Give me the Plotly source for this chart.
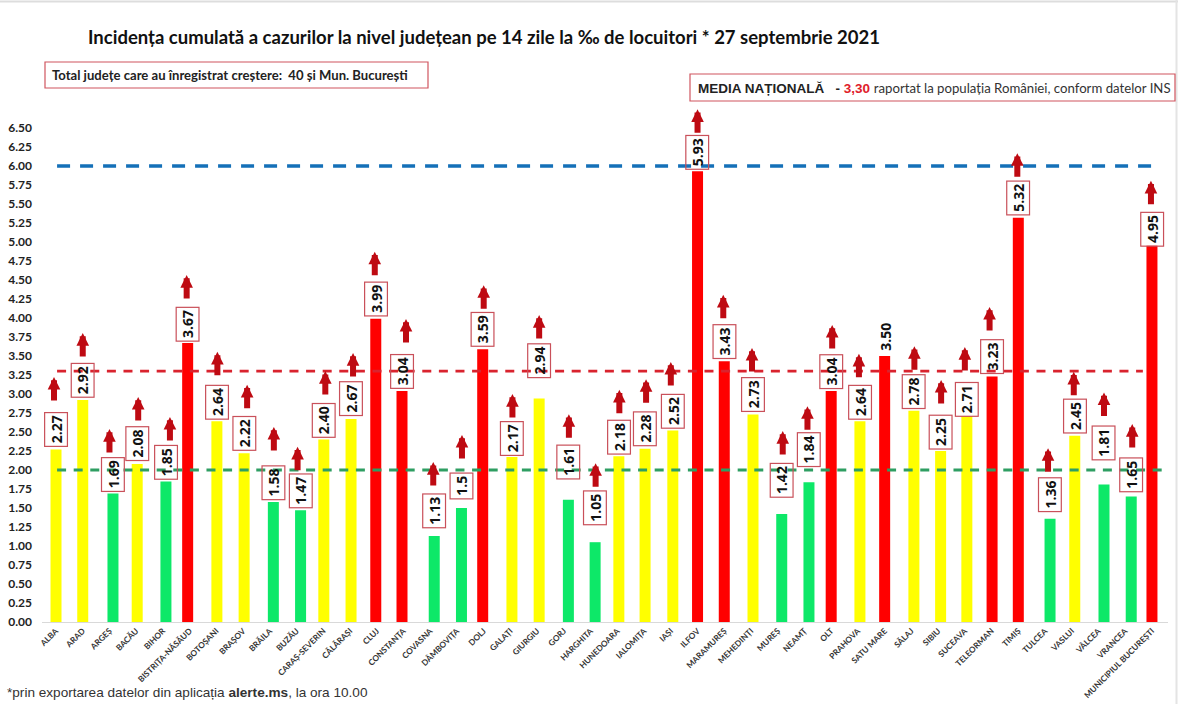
import plotly.graph_objects as go

# ---------- data ----------
COUNTIES = ["ALBA","ARAD","ARGEȘ","BACĂU","BIHOR","BISTRIȚA-NĂSĂUD","BOTOȘANI","BRAȘOV","BRĂILA","BUZĂU",
            "CARAȘ-SEVERIN","CĂLĂRAȘI","CLUJ","CONSTANȚA","COVASNA","DÂMBOVIȚA","DOLJ","GALAȚI","GIURGIU","GORJ",
            "HARGHITA","HUNEDOARA","IALOMIȚA","IAȘI","ILFOV","MARAMUREȘ","MEHEDINȚI","MUREȘ","NEAMȚ","OLT",
            "PRAHOVA","SATU MARE","SĂLAJ","SIBIU","SUCEAVA","TELEORMAN","TIMIȘ","TULCEA","VASLUI","VÂLCEA",
            "VRANCEA","MUNICIPIUL BUCUREȘTI"]
INCIDENCE = [2.27,2.92,1.69,2.08,1.85,3.67,2.64,2.22,1.58,1.47,
             2.40,2.67,3.99,3.04,1.13,1.5,3.59,2.17,2.94,1.61,
             1.05,2.18,2.28,2.52,5.93,3.43,2.73,1.42,1.84,3.04,
             2.64,3.50,2.78,2.25,2.71,3.23,5.32,1.36,2.45,1.81,
             1.65,4.95]
VALUE_LABELS = ["2.27","2.92","1.69","2.08","1.85","3.67","2.64","2.22","1.58","1.47",
                "2.40","2.67","3.99","3.04","1.13","1.5","3.59","2.17","2.94","1.61",
                "1.05","2.18","2.28","2.52","5.93","3.43","2.73","1.42","1.84","3.04",
                "2.64","3.50","2.78","2.25","2.71","3.23","5.32","1.36","2.45","1.81",
                "1.65","4.95"]
RISING = [c != "SATU MARE" for c in COUNTIES]
THRESHOLD_LOW = 2.0
THRESHOLD_NATIONAL = 3.3
THRESHOLD_HIGH = 6.0
Y_TICKS = [i * 0.25 for i in range(27)]

# ---------- layout tuning (pixels) ----------
W, H = 1178, 704
LEFT, RIGHT, TOP, BOTTOM = 42, 10, 128, 82
PX_PER_CAT = 26.73
BAR_W_PX = 11
BAR_NUDGE = [0,0,3.5,1,3,-2,.5,1,3.5,4,.5,1,-1,-1.5,4,4.5,-1,1.5,2,4.5,4.5,1.5,1,2,0,0,2,4,4.5,0,2,0,2.5,2.5,2,.5,0,5,3,5.5,6,0]
ARROW_NUDGE = [-2,0,0,2,7,-3,1,4,4,1,2,3,-2,2.5,3,5,0,2,2,5,5,2,2,0,0,-1,1,5,3,1,1,0,3,3,0,-2,-1,3,2,5.5,7,-1]
LABEL_LIFT = [19.5,20,19.5,20,19.5,19,19.5,19.5,19,19.5,19.5,20,20,19,25,22,20,19,37.5,37.5,34,19.5,19.5,19.5,19,19.5,19.5,34,33,19,19.5,19,19.5,19,17,19.5,19.5,23.5,20,41,21.5,17]
ARROW_LIFT = [72.5,67,64.5,67,64.5,68,69.5,68.5,75,63.5,68.5,66,67,72,74,73,64,63,83.5,85.5,79,66.5,69.5,68.5,62,66.5,66.5,83,76,66,67.5,0,64.5,71,69,69.5,64.5,70.5,64,92,72.5,65]

def bar_colour(v):
    if v < THRESHOLD_LOW:
        return "#0DE868"
    return "#FFFF00" if v <= 3.0 else "#FF0000"

fig = go.Figure(go.Bar(
    x=COUNTIES, y=INCIDENCE,
    width=BAR_W_PX / PX_PER_CAT,
    offset=[(n - BAR_W_PX / 2) / PX_PER_CAT for n in BAR_NUDGE],
    marker=dict(color=[bar_colour(v) for v in INCIDENCE], line=dict(width=0)),
    hoverinfo="x+y",
))

# threshold dashes
for val, col, x0, x1, w, dash in [
    (THRESHOLD_HIGH, "#1470B8", 0.04, 41.2, 3.4, "13px,10px"),
    (THRESHOLD_NATIONAL, "#D9232E", 0.04, 40.66, 2.8, "9px,7.6px"),
    (THRESHOLD_LOW, "#2E9E62", 0.04, 41.55, 2.8, "9px,7.6px"),
]:
    fig.add_shape(type="line", xref="x", yref="y", x0=x0, x1=x1, y0=val, y1=val,
                  line=dict(color=col, width=w, dash=dash), layer="above")

BORDER = "#C9505A"
for i, (c, v, t) in enumerate(zip(COUNTIES, INCIDENCE, VALUE_LABELS)):
    boxed = RISING[i]
    long_len = 31 if len(t) == 4 else 23
    kw = dict(bordercolor=BORDER, borderwidth=1.2, borderpad=1, width=long_len, height=20) if boxed else {}
    fig.add_annotation(x=c, y=v, text=f"<b>{t}</b>", showarrow=False, textangle=-90,
                       xshift=BAR_NUDGE[i], yshift=LABEL_LIFT[i], yanchor="middle", xanchor="center",
                       font=dict(family="Open Sans", size=14, color="#111111"), **kw)
    if boxed:
        fig.add_annotation(x=c, y=v, text="", showarrow=True, ax=0, ay=25, standoff=0,
                           arrowhead=2, arrowsize=0.42, arrowwidth=6, arrowcolor="#BE0A12",
                           xshift=ARROW_NUDGE[i], yshift=ARROW_LIFT[i])

def px(x): return (x - LEFT) / (W - LEFT - RIGHT)
def py(y): return (H - BOTTOM - y) / (H - TOP - BOTTOM)

# page edges
fig.add_shape(type="line", xref="paper", yref="paper", x0=px(0), x1=px(W), y0=py(1.5), y1=py(1.5),
              line=dict(color="#DDDDDD", width=2))
fig.add_shape(type="line", xref="paper", yref="paper", x0=px(1176.5), x1=px(1176.5), y0=py(0), y1=py(H),
              line=dict(color="#E4E4E4", width=2))

# info boxes
fig.add_shape(type="rect", xref="paper", yref="paper", x0=px(45), x1=px(428), y0=py(62), y1=py(88),
              line=dict(color="#D0555F", width=1.2))
fig.add_shape(type="rect", xref="paper", yref="paper", x0=px(690), x1=px(1175), y0=py(74), y1=py(101),
              line=dict(color="#D0555F", width=1.2))
fig.add_annotation(xref="paper", yref="paper", x=px(50), y=py(75), xanchor="left", yanchor="middle",
                   showarrow=False, text="<b>Total județe care au înregistrat creștere:  40 și Mun. București</b>",
                   font=dict(family="Lato", size=13.1, color="#222222"))
fig.add_annotation(xref="paper", yref="paper", x=px(696), y=py(88), xanchor="left", yanchor="middle",
                   showarrow=False,
                   text="<b>MEDIA NAȚIONALĂ</b>   <b>-</b> <b><span style='color:#E0202A'>3,30</span></b> "
                        "<span style='font-family:Lato;font-size:13.2px;color:#333333'>raportat la populația României, conform datelor INS</span>",
                   font=dict(family="Liberation Sans", size=13.5, color="#222222"))
fig.add_annotation(xref="paper", yref="paper", x=px(5), y=py(692), xanchor="left", yanchor="middle",
                   showarrow=False, text="*prin exportarea datelor din aplicația <b>alerte.ms</b>, la ora 10.00",
                   font=dict(family="Liberation Sans", size=13.6, color="#333333"))

fig.update_layout(
    width=W, height=H, margin=dict(l=LEFT, r=RIGHT, t=TOP, b=BOTTOM, autoexpand=False),
    paper_bgcolor="white", plot_bgcolor="white", showlegend=False,
    title=dict(text="<b>Incidența cumulată a cazurilor la nivel județean pe 14 zile la ‰ de locuitori * 27 septembrie 2021</b>",
               x=88 / W, xanchor="left", xref="container", y=1 - 37.5 / H, yanchor="middle", yref="container",
               font=dict(family="Lato", size=18.5, color="#111111")),
    xaxis=dict(type="category", categoryorder="array", categoryarray=COUNTIES,
               tickmode="array", tickvals=COUNTIES, ticktext=[f"<b>{c}</b>" for c in COUNTIES],
               range=[-0.524, 41.6], tickangle=-45, showgrid=False, showline=True,
               linecolor="#D9D9D9", linewidth=1, ticks="",
               tickfont=dict(family="Lato", size=8.2, color="#333333")),
    yaxis=dict(range=[0, 6.5], tickmode="array", tickvals=Y_TICKS, ticktext=[f"<b>{t:.2f}</b>" for t in Y_TICKS],
               showgrid=False, zeroline=False, showline=False, ticks="", ticklabelstandoff=9,
               tickfont=dict(family="Lato", size=12, color="#222222")),
)

fig.write_html("out.html", post_script="document.body.style.margin='0';", config={"displayModeBar": False})
